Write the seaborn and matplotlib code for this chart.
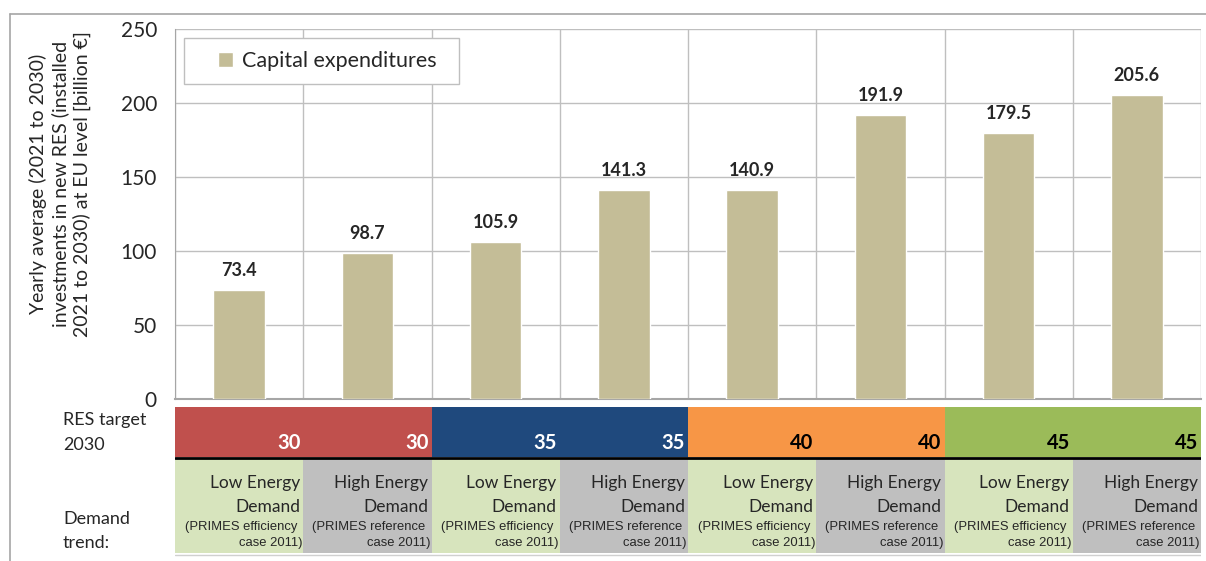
import pandas as pd
import seaborn as sns
import matplotlib.pyplot as plt
from matplotlib.lines import Line2D
from matplotlib.patches import Rectangle

# chart values
scenarios   = ['30 low', '30 high', '35 low', '35 high', '40 low', '40 high', '45 low', '45 high']
res_target  = ['30', '30', '35', '35', '40', '40', '45', '45']
demand_line = ['Low Energy', 'High Energy', 'Low Energy', 'High Energy',
               'Low Energy', 'High Energy', 'Low Energy', 'High Energy']
primes_case = ['(PRIMES efficiency', '(PRIMES reference', '(PRIMES efficiency', '(PRIMES reference',
               '(PRIMES efficiency', '(PRIMES reference', '(PRIMES efficiency', '(PRIMES reference']
capex       = [73.4, 98.7, 105.9, 141.3, 140.9, 191.9, 179.5, 205.6]
y_ticks     = [0, 50, 100, 150, 200, 250]

target_colors = {'30': '#C0504D', '35': '#1F497D', '40': '#F79646', '45': '#9BBB59'}
target_text   = {'30': 'white', '35': 'white', '40': 'black', '45': 'black'}
demand_colors = {'Low Energy': '#D7E4BD', 'High Energy': '#BFBFBF'}

df = pd.DataFrame({'scenario': scenarios, 'capex': capex})

sns.set_style('white')
plt.rcParams['font.family'] = ['Lato', 'DejaVu Sans']

W, H = 1206, 561
fig = plt.figure(figsize=(W / 100, H / 100), dpi=100)

def px_box(x0, y0, x1, y1):
    return [x0 / W, 1 - y1 / H, (x1 - x0) / W, (y1 - y0) / H]

# main bar chart
ax = fig.add_axes(px_box(175, 29, 1201, 399))
sns.barplot(data=df, x='scenario', y='capex', color='#C4BD97', width=0.4,
            saturation=1, ax=ax, label='Capital expenditures', zorder=3)
ax.set_xlim(-0.5, 7.5)
ax.set_ylim(0, 250)
ax.set_yticks(y_ticks)
ax.set_yticklabels([str(t) for t in y_ticks], fontsize=15)
ax.set_xticks([i + 0.5 for i in range(-1, 8)])
ax.set_xticklabels([])
ax.tick_params(axis='x', length=6, color='#BFBFBF', direction='out')
ax.tick_params(axis='y', length=7, color='#A6A6A6', direction='out', pad=6)
ax.grid(True, color='#BFBFBF', linewidth=1, zorder=0)
ax.set_axisbelow(True)
for s in ['top', 'right']:
    ax.spines[s].set_visible(False)
ax.spines['left'].set_color('#A6A6A6')
ax.spines['bottom'].set_color('#A6A6A6')
ax.spines['bottom'].set_linewidth(1.5)
ax.set_xlabel('')
ax.set_ylabel('')
ax.bar_label(ax.containers[0], fmt='%.1f', padding=8, fontsize=13, fontweight='bold')

# legend box (wider padding left/right than top/bottom, so drawn separately)
ax.add_patch(Rectangle(((184 - 175) / 1026, (399 - 84) / 370), 275 / 1026, 46 / 370,
                       transform=ax.transAxes, facecolor='white', edgecolor='#BFBFBF',
                       linewidth=1, zorder=4, clip_on=False))
leg = ax.legend(loc='center left', bbox_to_anchor=((218 - 175) / 1026, (399 - 61) / 370),
                borderaxespad=0, borderpad=0, frameon=False,
                handlelength=0.7, handleheight=0.7, handletextpad=0.4,
                prop={'size': 15.5})
leg.set_zorder(5)

fig.text(60 / W, 1 - 184 / H,
         'Yearly average (2021 to 2030)\ninvestments in new RES (installed\n2021 to 2030) at EU level [billion €]',
         rotation=90, ha='center', va='center', multialignment='center',
         fontsize=14, linespacing=1.25)

# table underneath the chart
tb = fig.add_axes(px_box(175, 403, 1201, 557))
tb.set_xlim(-0.5, 7.5)
tb.set_ylim(557, 403)
tb.axis('off')
xs = list(range(len(scenarios)))
tb.bar(xs, 50, bottom=407, width=1.0, color=[target_colors[t] for t in res_target], linewidth=0)
tb.bar(xs, 94, bottom=459, width=1.0, color=[demand_colors[d] for d in demand_line], linewidth=0)
tb.plot([-0.5, 7.5], [457.5, 457.5], color='black', linewidth=2)
tb.plot([-0.5, 7.5], [555, 555], color='#D0D0D0', linewidth=1)
for i, (t, d, p) in enumerate(zip(res_target, demand_line, primes_case)):
    xr = i + 0.5 - 3 / 128
    tb.text(xr, 443, t, ha='right', va='center', fontsize=14.5, fontweight='bold',
            color=target_text[t])
    tb.text(xr, 483, d, ha='right', va='center', fontsize=12.5)
    tb.text(xr, 507, 'Demand', ha='right', va='center', fontsize=12.5)
    tb.text(xr - 3 / 128, 527, p, ha='right', va='center', fontsize=9.4,
            family='Liberation Sans')
    tb.text(i + 0.5 - 1 / 128, 543, 'case 2011)', ha='right', va='center', fontsize=9.4,
            family='Liberation Sans')

for label, yy in [('RES target', 420), ('2030', 445), ('Demand', 519), ('trend:', 543)]:
    fig.text(63 / W, 1 - yy / H, label, ha='left', va='center', fontsize=13)

# outer frame of the original picture
fig.add_artist(Line2D([10 / W, 1], [1 - 13.5 / H, 1 - 13.5 / H], color='#A6A6A6', linewidth=1.2))
fig.add_artist(Line2D([10 / W, 10 / W], [0, 1 - 13.5 / H], color='#A6A6A6', linewidth=1.2))

fig.savefig('out.png', dpi=100)
